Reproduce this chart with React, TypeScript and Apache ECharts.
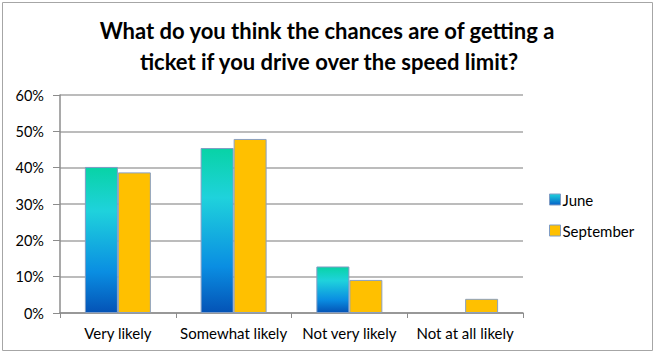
import React, { useEffect, useRef } from "react";
import * as echarts from "echarts";

const titleLines = [
  "What do you think the chances are of getting a",
  "ticket if you drive over the speed limit?",
];
const categories = ["Very likely", "Somewhat likely", "Not very likely", "Not at all likely"];
const juneValues = [40.2, 45.4, 12.8, 0];
const septemberValues = [38.7, 47.9, 9.1, 3.9];
const seriesNames = ["June", "September"];

const FONT = "Lato, 'Open Sans', sans-serif";

export default function App() {
  const ref = useRef<HTMLDivElement>(null);
  useEffect(() => {
    if (!ref.current) return;
    document.body.style.margin = "0";
    const chart = echarts.init(ref.current, null, { renderer: "svg" });
    const juneGrad = new echarts.graphic.LinearGradient(0, 0, 0, 1, [
      { offset: 0, color: "#08d3a6" },
      { offset: 0.3, color: "#1fd2dc" },
      { offset: 0.72, color: "#0a8ee2" },
      { offset: 1, color: "#0453b6" },
    ]);
    const legendGrad = new echarts.graphic.LinearGradient(0, 0, 0, 1, [
      { offset: 0, color: "#1fd2dc" },
      { offset: 1, color: "#0460c8" },
    ]);
    const hideZero = (vals: number[]) =>
      vals.map((v) => (v === 0 ? { value: v, itemStyle: { borderWidth: 0 } } : v));
    chart.setOption({
      animation: false,
      backgroundColor: "#ffffff",
      textStyle: { fontFamily: FONT },
      graphic: [
        {
          type: "rect",
          shape: { x: 2.5, y: 2.5, width: 650, height: 348 },
          style: { fill: "none", stroke: "#a6a6a6", lineWidth: 1 },
          silent: true,
        },
        {
          type: "text",
          x: 327,
          y: 30,
          style: {
            text: titleLines[0],
            fontFamily: FONT,
            fontWeight: "bold",
            fontSize: 22,
            fill: "#000",
            textAlign: "center",
            textVerticalAlign: "middle",
          },
        },
        {
          type: "text",
          x: 329,
          y: 61,
          style: {
            text: titleLines[1],
            fontFamily: FONT,
            fontWeight: "bold",
            fontSize: 22,
            fill: "#000",
            textAlign: "center",
            textVerticalAlign: "middle",
          },
        },
      ],
      legend: {
        orient: "vertical",
        left: 544,
        top: 187,
        icon: "rect",
        itemWidth: 11,
        itemHeight: 11,
        itemGap: 16,
        textStyle: { fontFamily: FONT, fontSize: 15, color: "#000", padding: [0, 0, 0, -3] },
        data: [
          {
            name: seriesNames[0],
            itemStyle: { color: legendGrad, borderColor: "#7f9cc4", borderWidth: 1 },
          },
          {
            name: seriesNames[1],
            itemStyle: { color: "#ffc000", borderColor: "#7f9cc4", borderWidth: 1 },
          },
        ],
      },
      grid: { left: 60, right: 133, top: 95, bottom: 42, containLabel: false },
      xAxis: {
        type: "category",
        data: categories,
        axisLine: { lineStyle: { color: "#8c8c8c", width: 1.5 } },
        axisTick: { show: true, length: 5, lineStyle: { color: "#8c8c8c" } },
        axisLabel: { fontFamily: FONT, fontSize: 15, color: "#000", margin: 12, interval: 0 },
      },
      yAxis: {
        type: "value",
        min: 0,
        max: 60,
        interval: 10,
        axisLine: { show: true, lineStyle: { color: "#8c8c8c", width: 1.5 } },
        axisTick: { show: true, length: 7, lineStyle: { color: "#8c8c8c" } },
        splitLine: { lineStyle: { color: "#a6a6a6", width: 1.5 } },
        axisLabel: {
          fontFamily: FONT,
          fontSize: 14.5,
          color: "#000",
          margin: 16,
          formatter: (v: number) => v + "%",
        },
      },
      series: [
        {
          name: seriesNames[0],
          type: "bar",
          data: hideZero(juneValues),
          barGap: "0%",
          barCategoryGap: "43%",
          itemStyle: { color: juneGrad, borderColor: "#7f9cc4", borderWidth: 1 },
        },
        {
          name: seriesNames[1],
          type: "bar",
          data: hideZero(septemberValues),
          itemStyle: { color: "#ffc000", borderColor: "#8aa0c2", borderWidth: 1 },
        },
      ],
    });
    return () => chart.dispose();
  }, []);
  return <div ref={ref} style={{ width: 656, height: 355 }} />;
}
